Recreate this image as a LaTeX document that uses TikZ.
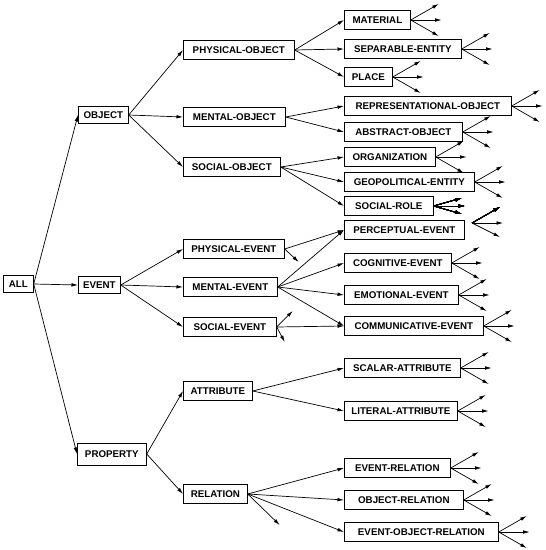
\documentclass[tikz,border=0pt]{standalone}
\usepackage{fontspec}
\setmainfont{Liberation Sans}[BoldFont={Liberation Sans Bold}]
\usetikzlibrary{arrows.meta}

\newcommand{\fanout}[2][16]{%
        \draw[->] (#2.east) -- ++(28,-#1);
        \draw[->] (#2.east) -- ++(31,0);
        \draw[->] (#2.east) -- ++(28,#1);}

\begin{document}
\begin{tikzpicture}[x=1bp, y=-1bp, >={Latex[length=6.5bp,width=3.6bp]}, line width=0.7bp,
        cls/.style={draw, anchor=west, inner xsep=0pt, inner ysep=1bp, minimum height=19bp, font=\fontsize{9.8}{11}\selectfont\bfseries},
        top/.style={cls, minimum height=17bp}]
        \useasboundingbox (0,0) rectangle (546,550);
        % root and first level
        \node[top, minimum width=30bp] (all) at (3,284) {ALL};
        \node[top, minimum width=50bp] (object) at (78,115) {OBJECT};
        \node[top, minimum width=42bp] (event) at (78,285) {EVENT};
        \node[top, minimum width=69bp, minimum height=22bp] (property) at (77,454) {PROPERTY};
        % second level
        \node[cls, minimum width=111bp] (physobj) at (183,50) {PHYSICAL-OBJECT};
        \node[cls, minimum width=102bp] (mentobj) at (183,117) {MENTAL-OBJECT};
        \node[cls, minimum width=97bp] (socobj) at (183,167) {SOCIAL-OBJECT};
        \node[cls, minimum width=101bp] (physev) at (183,249) {PHYSICAL-EVENT};
        \node[cls, minimum width=94bp] (mentev) at (183,287) {MENTAL-EVENT};
        \node[cls, minimum width=93bp] (socev) at (183,327) {SOCIAL-EVENT};
        \node[cls, minimum width=69bp] (attr) at (183,391) {ATTRIBUTE};
        \node[cls, minimum width=64bp] (rel) at (183,494) {RELATION};
        % third level
        \node[cls, minimum width=66bp] (material) at (344,20) {MATERIAL};
        \node[cls, minimum width=117bp] (separable) at (344,49) {SEPARABLE-ENTITY};
        \node[cls, minimum width=48bp] (place) at (344,77) {PLACE};
        \node[cls, minimum width=167bp] (repr) at (344,106) {REPRESENTATIONAL-OBJECT};
        \node[cls, minimum width=118bp] (abstract) at (344,132) {ABSTRACT-OBJECT};
        \node[cls, minimum width=91bp] (org) at (344,157) {ORGANIZATION};
        \node[cls, minimum width=130bp] (geo) at (344,182) {GEOPOLITICAL-ENTITY};
        \node[cls, minimum width=89bp] (socrole) at (344,206) {SOCIAL-ROLE};
        \node[cls, minimum width=120bp] (percept) at (344,230) {PERCEPTUAL-EVENT};
        \node[cls, minimum width=107bp] (cognit) at (344,263) {COGNITIVE-EVENT};
        \node[cls, minimum width=114bp] (emot) at (344,295) {EMOTIONAL-EVENT};
        \node[cls, minimum width=139bp] (commun) at (344,326) {COMMUNICATIVE-EVENT};
        \node[cls, minimum width=116bp] (scalar) at (344,368) {SCALAR-ATTRIBUTE};
        \node[cls, minimum width=113bp] (literal) at (344,411) {LITERAL-ATTRIBUTE};
        \node[cls, minimum width=106bp] (evrel) at (344,468) {EVENT-RELATION};
        \node[cls, minimum width=119bp] (objrel) at (344,500) {OBJECT-RELATION};
        \node[cls, minimum width=154bp] (evobjrel) at (344,532) {EVENT-OBJECT-RELATION};
        \coordinate (perfan) at (472,223);

        % links
        \foreach \p/\c in {all/object, all/event, all/property,
                object/physobj, object/mentobj, object/socobj,
                event/physev, event/mentev, event/socev,
                property/attr, property/rel,
                physobj/material, physobj/separable, physobj/place,
                mentobj/repr, mentobj/abstract,
                socobj/org, socobj/geo, socobj/socrole,
                physev/percept, mentev/percept, mentev/cognit, mentev/emot, mentev/commun,
                socev/commun, attr/scalar, attr/literal,
                rel/evrel, rel/objrel, rel/evobjrel}
            \draw[->] (\p.east) -- (\c.west);

        % open ends
        \foreach \n in {material, separable, place, repr, abstract, org, geo,
                cognit, emot, commun, scalar, literal, evrel, objrel, evobjrel}
            \fanout{\n}
        \fanout[8]{socrole}
        \draw[->] (perfan) -- ++(28,-16);
        \draw[->] (perfan) -- ++(31,0);
        \draw[->] (perfan) -- ++(28,14);
        \draw[->] (physev.east) -- ++(14,13);
        \draw[->] (socev.east) -- ++(16,-16);
        \draw[->] (socev.east) -- ++(8,15);
        \draw[->] (rel.east) -- ++(32,31);
    \end{tikzpicture}
\end{document}
